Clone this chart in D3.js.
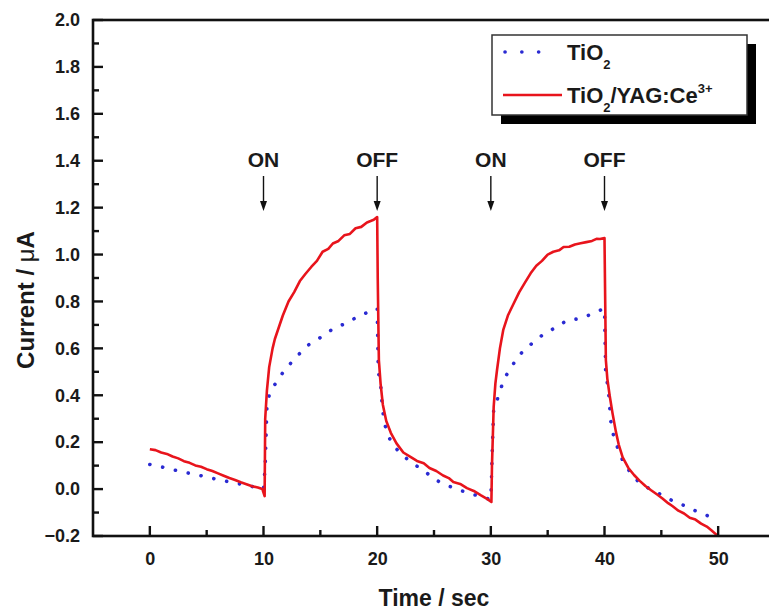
<!DOCTYPE html>
<html>
<head>
<meta charset="utf-8">
<script src="https://cdn.jsdelivr.net/npm/d3@7/dist/d3.min.js"></script>
<style>
  html, body { margin: 0; padding: 0; background: #fff; }
  svg { display: block; }
  text { font-family: "Liberation Sans", Arial, Helvetica, sans-serif; font-weight: bold; fill: #1a1a1a; }
</style>
</head>
<body>
<svg id="chart" width="769" height="614"></svg>
<script>
// ---- Data ----
const xTicks = [0, 10, 20, 30, 40, 50];
const yTicks = [-0.2, 0.0, 0.2, 0.4, 0.6, 0.8, 1.0, 1.2, 1.4, 1.6, 1.8, 2.0];
const seriesNames = ["TiO2", "TiO2/YAG:Ce3+"];
const annotations = [
  { t: 10, label: "ON" }, { t: 20, label: "OFF" },
  { t: 30, label: "ON" }, { t: 40, label: "OFF" }
];

// TiO2 (blue dotted)
const tio2T = [0, 1, 2, 3, 4, 5, 6, 7, 8, 9, 10, 10.15, 10.3, 10.5, 11.1, 11.9, 12.7, 13.8, 15.2, 16.3, 17.2, 18.1, 19.0, 19.7, 20.0,
  20.1, 20.3, 20.45, 20.6, 20.9, 21.45, 22.2, 22.9, 23.95, 25.1, 26.2, 27.3, 28.2, 29.0, 30.0,
  30.15, 30.25, 30.7, 31.15, 31.7, 32.3, 33.0, 33.6, 34.8, 35.8, 36.7, 37.9, 38.8, 39.5, 40.0,
  40.1, 40.35, 40.45, 40.55, 40.8, 41.2, 41.7, 42.3, 43.0, 44.0, 45.1, 46.1, 47.0, 48.0, 48.9, 49.8];
const tio2V = [0.105, 0.095, 0.083, 0.072, 0.062, 0.052, 0.040, 0.031, 0.021, 0.011, 0.0, 0.10, 0.35, 0.40, 0.455, 0.51, 0.553, 0.61, 0.652, 0.69, 0.705, 0.73, 0.75, 0.766, 0.77,
  0.50, 0.45, 0.355, 0.29, 0.234, 0.182, 0.149, 0.115, 0.085, 0.04, 0.015, -0.005, -0.02, -0.03, -0.045,
  0.20, 0.34, 0.40, 0.47, 0.51, 0.56, 0.596, 0.62, 0.667, 0.69, 0.72, 0.727, 0.745, 0.76, 0.77,
  0.50, 0.42, 0.355, 0.29, 0.227, 0.17, 0.11, 0.07, 0.03, 0.0, -0.026, -0.053, -0.07, -0.093, -0.11, -0.128];

// TiO2/YAG:Ce3+ (red solid)
const yagT = [0, 0.5, 1, 1.5, 2, 2.5, 3, 3.5, 4, 4.5, 5, 5.5, 6, 6.5, 7, 7.5, 8, 8.5, 9, 9.5, 9.9, 10.1,
  10.15, 10.3, 10.5, 10.8, 11.0, 11.35, 11.7, 12.2, 12.7, 13.2, 13.7, 14.2, 14.7, 15.2, 15.7, 16.1, 16.6, 17.1, 17.6, 18.1, 18.6, 19.1, 19.7, 20.0,
  20.05, 20.15, 20.3, 20.5, 20.8, 21.2, 21.7, 22.3, 23.0, 23.5, 24.1, 24.6, 25.2, 25.8, 26.3, 26.7, 27.3, 27.9, 28.5, 29.1, 29.7, 30.05,
  30.1, 30.25, 30.4, 30.55, 30.8, 31.1, 31.5, 32.0, 32.5, 33.0, 33.5, 34.0, 34.5, 35.0, 35.5, 36.0, 36.4, 36.9, 37.4, 37.9, 38.4, 38.9, 39.3, 39.6, 40.0,
  40.05, 40.12, 40.25, 40.45, 40.7, 41.0, 41.25, 41.6, 42.1, 42.6, 43.1, 43.6, 44.1, 44.6, 45.1, 45.6, 46.0, 46.5, 47.0, 47.5, 48.0, 48.5, 49.0, 49.4, 49.75, 50.0];
const yagV = [0.17, 0.166, 0.156, 0.150, 0.139, 0.131, 0.119, 0.112, 0.101, 0.095, 0.085, 0.077, 0.067, 0.057, 0.047, 0.039, 0.029, 0.021, 0.012, 0.007, 0.0, -0.03,
  0.30, 0.42, 0.52, 0.60, 0.64, 0.69, 0.74, 0.80, 0.84, 0.887, 0.918, 0.947, 0.973, 1.012, 1.024, 1.047, 1.058, 1.082, 1.088, 1.112, 1.118, 1.137, 1.148, 1.16,
  0.90, 0.55, 0.45, 0.36, 0.29, 0.24, 0.195, 0.156, 0.135, 0.12, 0.11, 0.09, 0.077, 0.058, 0.047, 0.03, 0.022, 0.004, -0.008, -0.026, -0.043, -0.055,
  0.10, 0.35, 0.45, 0.51, 0.60, 0.68, 0.74, 0.79, 0.84, 0.88, 0.92, 0.952, 0.973, 1.0, 1.012, 1.018, 1.032, 1.033, 1.043, 1.048, 1.053, 1.058, 1.067, 1.066, 1.07,
  0.85, 0.55, 0.47, 0.40, 0.325, 0.245, 0.19, 0.135, 0.09, 0.06, 0.035, 0.013, -0.005, -0.022, -0.04, -0.06, -0.073, -0.092, -0.104, -0.122, -0.13, -0.147, -0.16, -0.176, -0.19, -0.20];

const tio2 = tio2T.map((t, i) => ({ t, v: tio2V[i] }));
const yag = yagT.map((t, i) => ({ t, v: yagV[i] }));

// ---- Layout ----
const svg = d3.select("#chart");
const mLeft = 93, mTop = 20, mRight = 775, mBottom = 536;

const x = d3.scaleLinear().domain([-5, 55]).range([mLeft, mRight]);
const y = d3.scaleLinear().domain([-0.2, 2.0]).range([mBottom, mTop]);

const axisColor = "#111";

// Curves (blue below red)
const line = d3.line().x(d => x(d.t)).y(d => y(d.v));

svg.append("path")
  .datum(tio2)
  .attr("d", line)
  .attr("fill", "none")
  .attr("stroke", "#2a2ad2")
  .attr("stroke-width", 3.6)
  .attr("stroke-linecap", "round")
  .attr("stroke-dasharray", "0.1 13");

svg.append("path")
  .datum(yag)
  .attr("d", line)
  .attr("fill", "none")
  .attr("stroke", "#e8141c")
  .attr("stroke-width", 2.6)
  .attr("stroke-linejoin", "round");

// Axes
const xMinor = d3.range(-5, 56, 5).filter(v => !xTicks.includes(v) && v > -5);
const yMinor = d3.range(-1, 20, 2).map(v => v / 10);

const gx = svg.append("g").attr("transform", `translate(0,${mBottom})`);
gx.call(d3.axisBottom(x).tickValues(xTicks).tickSize(0).tickPadding(16).tickFormat(d3.format("d")));
gx.select(".domain").remove();
gx.selectAll("text").style("font-size", "18px").attr("font-family", null);

svg.append("g").selectAll("line").data(xTicks).join("line")
  .attr("x1", d => x(d)).attr("x2", d => x(d))
  .attr("y1", mBottom).attr("y2", mBottom - 10)
  .attr("stroke", axisColor).attr("stroke-width", 2.4);
svg.append("g").selectAll("line").data(xMinor).join("line")
  .attr("x1", d => x(d)).attr("x2", d => x(d))
  .attr("y1", mBottom).attr("y2", mBottom - 6)
  .attr("stroke", axisColor).attr("stroke-width", 2.4);

const gy = svg.append("g").attr("transform", `translate(${mLeft},0)`);
gy.call(d3.axisLeft(y).tickValues(yTicks).tickSize(0).tickPadding(13).tickFormat(d3.format(".1f")));
gy.select(".domain").remove();
gy.selectAll("text").style("font-size", "18px").attr("font-family", null);

svg.append("g").selectAll("line").data(yTicks).join("line")
  .attr("x1", mLeft).attr("x2", mLeft + 10)
  .attr("y1", d => y(d)).attr("y2", d => y(d))
  .attr("stroke", axisColor).attr("stroke-width", 2.4);
svg.append("g").selectAll("line").data(yMinor).join("line")
  .attr("x1", mLeft).attr("x2", mLeft + 6)
  .attr("y1", d => y(d)).attr("y2", d => y(d))
  .attr("stroke", axisColor).attr("stroke-width", 2.4);

// Frame
svg.append("rect")
  .attr("x", mLeft).attr("y", mTop)
  .attr("width", mRight - mLeft).attr("height", mBottom - mTop)
  .attr("fill", "none").attr("stroke", axisColor).attr("stroke-width", 2.6);

// Axis titles
svg.append("text")
  .attr("x", (mLeft + mRight) / 2).attr("y", 606)
  .attr("text-anchor", "middle")
  .style("font-size", "23px")
  .text("Time / sec");

const yt = svg.append("text")
  .attr("transform", `translate(34,300) rotate(-90)`)
  .attr("text-anchor", "middle")
  .style("font-size", "24px");
yt.append("tspan").text("Current / ");
yt.append("tspan").style("font-weight", "normal").text("μ");
yt.append("tspan").text("A");

// ON / OFF annotations
const ann = svg.append("g");
annotations.forEach(a => {
  const cx = x(a.t);
  ann.append("text").attr("x", cx).attr("y", 167).attr("text-anchor", "middle")
    .style("font-size", "21px").text(a.label);
  ann.append("line").attr("x1", cx).attr("x2", cx).attr("y1", 176).attr("y2", 203)
    .attr("stroke", "#111").attr("stroke-width", 1.4);
  ann.append("path")
    .attr("d", `M${cx - 3.5},${201} L${cx + 3.5},${201} L${cx},${211} Z`)
    .attr("fill", "#111");
});

// Legend
const lg = svg.append("g");
lg.append("rect").attr("x", 501).attr("y", 44).attr("width", 255).attr("height", 80).attr("fill", "#000");
lg.append("rect").attr("x", 492).attr("y", 35).attr("width", 255).attr("height", 80)
  .attr("fill", "#fff").attr("stroke", "#333").attr("stroke-width", 1.5);

lg.append("line").attr("x1", 505).attr("x2", 555).attr("y1", 52).attr("y2", 52)
  .attr("stroke", "#2a2ad2").attr("stroke-width", 3.6).attr("stroke-linecap", "round")
  .attr("stroke-dasharray", "0.1 16.7");
lg.append("line").attr("x1", 503).attr("x2", 562).attr("y1", 95).attr("y2", 95)
  .attr("stroke", "#e8141c").attr("stroke-width", 2.6);

const t1 = lg.append("text").attr("x", 567).attr("y", 60).style("font-size", "22px");
t1.append("tspan").text("TiO");
t1.append("tspan").attr("dy", 9).style("font-size", "13px").text("2");

const t2 = lg.append("text").attr("x", 567).attr("y", 103).style("font-size", "22px");
t2.append("tspan").text("TiO");
t2.append("tspan").attr("dy", 9).style("font-size", "13px").text("2");
t2.append("tspan").attr("dy", -9).text("/YAG:Ce");
t2.append("tspan").attr("dy", -10).style("font-size", "13px").text("3+");
</script>
</body>
</html>
